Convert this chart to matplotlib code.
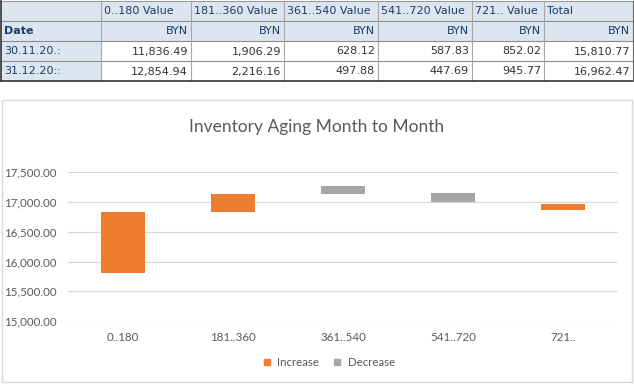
import matplotlib.pyplot as plt
from matplotlib.patches import Rectangle
from matplotlib.lines import Line2D

# table data
buckets = ["0..180", "181..360", "361..540", "541..720", "721.."]
dates = ["30.11.20.:", "31.12.20::"]
nov_vals = [11836.49, 1906.29, 628.12, 587.83, 852.02]
dec_vals = [12854.94, 2216.16, 497.88, 447.69, 945.77]
nov_total = 15810.77
dec_total = 16962.47
currency = "BYN"

W, H = 634, 384
fig = plt.figure(figsize=(W / 100, H / 100), dpi=100)
fig.patch.set_facecolor("white")

# ---- table drawn in pixel coordinates ----
tab = fig.add_axes([0, 0, 1, 1])
tab.set_xlim(0, W)
tab.set_ylim(H, 0)
tab.axis("off")

col_x = [1, 101, 191, 284, 378, 472, 544, 633]
row_y = [1, 21, 41, 61, 81]
head_bg = "#dce6f1"
head_fg = "#1f3b63"
cell_fg = "#333333"
tfont = "DejaVu Sans"
tsize = 8.0

# backgrounds
tab.add_patch(Rectangle((col_x[0], row_y[0]), col_x[-1] - col_x[0], row_y[2] - row_y[0],
                        facecolor=head_bg, edgecolor="none"))
tab.add_patch(Rectangle((col_x[0], row_y[2]), col_x[1] - col_x[0], row_y[4] - row_y[2],
                        facecolor=head_bg, edgecolor="none"))

# grid lines
for y in row_y[1:4]:
    tab.plot([col_x[0], col_x[-1]], [y, y], color="#8c8c8c", lw=0.8)
for x in col_x[1:-1]:
    tab.plot([x, x], [row_y[0], row_y[4]], color="#a8a8a8", lw=0.8)
tab.plot([col_x[0], col_x[-1]], [row_y[0], row_y[0]], color="#9a9a9a", lw=0.8)
tab.plot([col_x[0], col_x[-1]], [row_y[4], row_y[4]], color="#333333", lw=1.2)
tab.plot([col_x[0], col_x[0]], [row_y[0], row_y[4]], color="#333333", lw=1.2)
tab.plot([col_x[-1], col_x[-1]], [row_y[0], row_y[4]], color="#666666", lw=0.8)

headers = [b + " Value" for b in buckets] + ["Total"]
for i, h in enumerate(headers):
    tab.text(col_x[i + 1] + 3, (row_y[0] + row_y[1]) / 2 + 0.5, h, ha="left", va="center",
             fontsize=tsize, color=head_fg, family=tfont)
    tab.text(col_x[i + 2] - 3, (row_y[1] + row_y[2]) / 2 + 0.5, currency, ha="right", va="center",
             fontsize=tsize, color=head_fg, family=tfont)
tab.text(col_x[0] + 3, (row_y[1] + row_y[2]) / 2 + 0.5, "Date", ha="left", va="center",
         fontsize=tsize, color=head_fg, family=tfont, fontweight="bold")

for r, (d, vals, tot) in enumerate([(dates[0], nov_vals, nov_total), (dates[1], dec_vals, dec_total)]):
    yc = (row_y[2 + r] + row_y[3 + r]) / 2 + 0.5
    tab.text(col_x[0] + 3, yc, d, ha="left", va="center", fontsize=tsize, color=head_fg, family=tfont)
    for i, v in enumerate(list(vals) + [tot]):
        tab.text(col_x[i + 2] - 3, yc, f"{v:,.2f}", ha="right", va="center",
                 fontsize=tsize, color=cell_fg, family=tfont)

# chart frame
tab.add_patch(Rectangle((1.5, 100), 630.5, 282, facecolor="none", edgecolor="#d9d9d9", lw=1))

# ---- waterfall chart ----
cfont = ["Lato", "DejaVu Sans"]
text_col = "#595959"
inc_col = "#ed7d31"
dec_col = "#a5a5a5"

deltas = [d - n for d, n in zip(dec_vals, nov_vals)]
bottoms = []
heights = []
colors = []
cum = nov_total
for dlt in deltas:
    bottoms.append(cum)
    heights.append(abs(dlt))
    colors.append(inc_col if dlt >= 0 else dec_col)
    cum += dlt

ax = fig.add_axes([68 / W, (H - 321) / H, 550 / W, (321 - 172.3) / H])
ax.bar(range(len(buckets)), heights, bottom=bottoms, width=0.4, color=colors, zorder=3)
ax.set_xlim(-0.5, len(buckets) - 0.5)
ax.set_ylim(15000, 17500)
ax.set_yticks([15000, 15500, 16000, 16500, 17000, 17500])
ax.set_yticklabels([f"{t:,.2f}" for t in ax.get_yticks()])
ax.set_xticks(range(len(buckets)))
ax.set_xticklabels(buckets)
ax.grid(axis="y", color="#d9d9d9", lw=0.9, zorder=0)
for s in ax.spines.values():
    s.set_visible(False)
ax.tick_params(length=0, labelsize=8.3, labelcolor=text_col)
ax.tick_params(axis="y", pad=8)
ax.tick_params(axis="x", pad=8)
for lbl in ax.get_xticklabels() + ax.get_yticklabels():
    lbl.set_family(cfont)

fig.text(317 / W, 1 - 127 / H, "Inventory Aging Month to Month", ha="center", va="center",
         fontsize=12.5, color=text_col, family=cfont)

handles = [Line2D([], [], marker="s", ls="", color=inc_col, markersize=5),
           Line2D([], [], marker="s", ls="", color=dec_col, markersize=5)]
fig.legend(handles, ["Increase", "Decrease"], loc="center", bbox_to_anchor=(325 / W, 1 - 363 / H),
           ncol=2, frameon=False, handletextpad=-0.1, columnspacing=0.6,
           prop={"family": cfont, "size": 8.3}, labelcolor=text_col)

fig.savefig("out.png", dpi=100, facecolor="white")
